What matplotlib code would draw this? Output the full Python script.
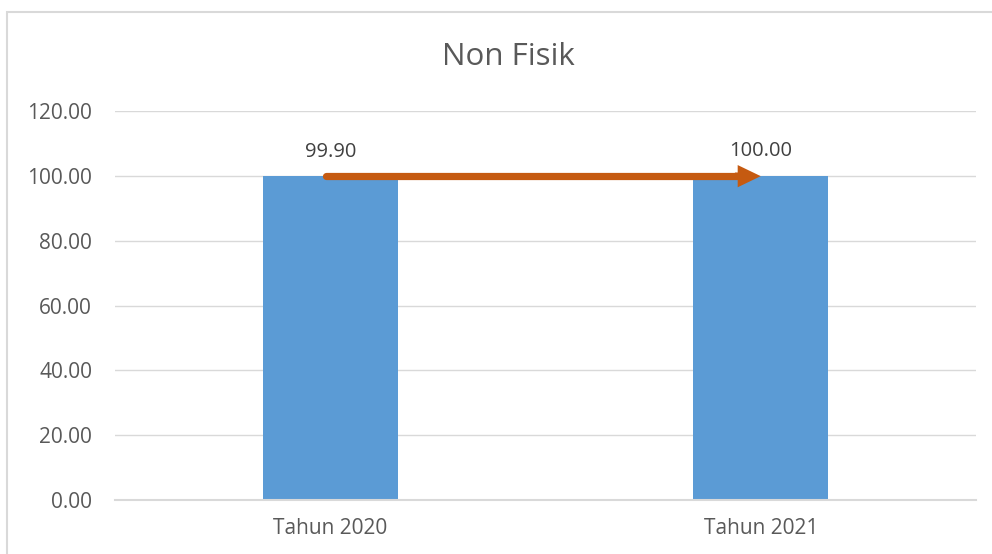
import matplotlib
matplotlib.use("Agg")
import matplotlib.pyplot as plt
from matplotlib.patches import Rectangle, FancyArrowPatch

# data
categories = ["Tahun 2020", "Tahun 2021"]
values = [99.90, 100.00]
y_ticks = [0, 20, 40, 60, 80, 100, 120]

bar_color = "#5B9BD5"
arrow_color = "#C55A11"
text_color = "#595959"
grid_color = "#D9D9D9"

plt.rcParams["font.family"] = ["Open Sans", "DejaVu Sans"]

fig = plt.figure(figsize=(9.92, 5.54), dpi=100)
ax = fig.add_axes([115 / 992, 1 - 500 / 554, (976 - 115) / 992, (500 - 111) / 554])

# chart border (cropped on right and bottom)
fig.patches.append(Rectangle((7 / 992, -0.1), 1.2, 1.1 - 12 / 554,
                             transform=fig.transFigure, fill=False,
                             edgecolor=grid_color, linewidth=1.5))

x = list(range(len(categories)))
ax.bar(x, values, width=0.314, color=bar_color, zorder=2)

for xi, v in zip(x, values):
    ax.text(xi, v + 4.5, f"{v:.2f}", ha="center", va="bottom", fontsize=14.5, color="#404040")

# trend arrow from first bar to second: round-capped shaft + solid head
ax.plot([x[0] - 0.01, x[1] - 0.04], [values[0], values[0]], color=arrow_color,
        linewidth=5.2, solid_capstyle="round", zorder=3)
arrow = FancyArrowPatch((x[1] - 0.06, values[0]), (x[1], values[0]),
                        arrowstyle="simple,head_length=1.66,head_width=1.6,tail_width=0.52",
                        mutation_scale=10, color=arrow_color, linewidth=0,
                        shrinkA=0, shrinkB=0, zorder=3)
ax.add_patch(arrow)

ax.set_xlim(-0.5, 1.5)
ax.set_ylim(0, 120)
ax.set_yticks(y_ticks)
ax.set_yticklabels([f"{t:.2f}" for t in y_ticks])
ax.set_xticks(x)
ax.set_xticklabels(categories)
ax.tick_params(axis="both", length=0, labelsize=15, colors=text_color)
ax.tick_params(axis="y", pad=16.5)
ax.tick_params(axis="x", pad=13)
ax.grid(axis="y", color=grid_color, linewidth=1)
ax.set_axisbelow(True)
for side in ["top", "right", "left"]:
    ax.spines[side].set_visible(False)
ax.spines["bottom"].set_color(grid_color)
ax.spines["bottom"].set_linewidth(1.5)

fig.text(508 / 992, 1 - 57 / 554, "Non Fisik", ha="center", va="center",
         fontsize=22.5, color=text_color)

fig.savefig("out.png", dpi=100)
